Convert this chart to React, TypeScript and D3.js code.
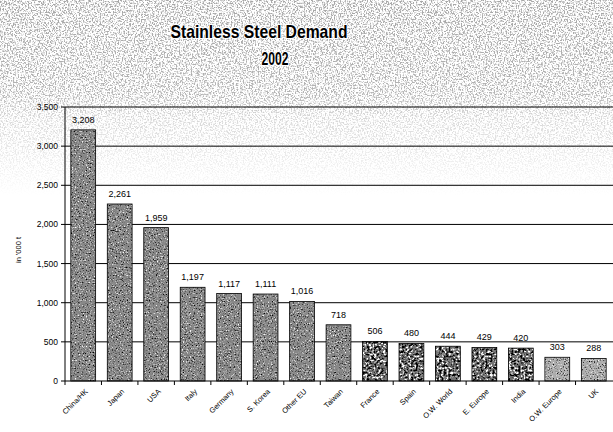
import React from "react";
import * as d3 from "d3";

const categories = ["China/HK", "Japan", "USA", "Italy", "Germany", "S. Korea", "Other EU", "Taiwan", "France", "Spain", "O.W. World", "E. Europe", "India", "O.W. Europe", "UK"];
const values = [3208, 2261, 1959, 1197, 1117, 1111, 1016, 718, 506, 480, 444, 429, 420, 303, 288];
const yTicks = [0, 500, 1000, 1500, 2000, 2500, 3000, 3500];
const titleLines = ["Stainless Steel Demand", "2002"];
const yLabel = "in '000 t";

const W = 613, H = 432;
const M = { left: 65, right: 1, top: 107, bottom: 51 };

function shade(i: number): string {
  if (i < 8) return "#888888";
  if (i < 13) return "#707070";
  return "#adadad";
}
function grain(i: number): string {
  return i >= 8 && i < 13 ? "url(#grainHard)" : "url(#grainSoft)";
}

export default function App() {
  const x = d3.scaleBand<string>().domain(categories).range([M.left, W - M.right]).paddingInner(0.32).paddingOuter(0.16);
  const y = d3.scaleLinear().domain([0, 3500]).range([H - M.bottom, M.top]);
  const fmt = d3.format(",");
  const step = x.step();
  const y0 = y(0);
  return (
    <svg width={W} height={H} style={{ position: "absolute", left: 0, top: 0, background: "#fff" }} fontFamily="'Liberation Sans', Arial, sans-serif">
      <defs>
        <filter id="noise" x="0" y="0" width="100%" height="100%" colorInterpolationFilters="sRGB">
          <feTurbulence type="fractalNoise" baseFrequency="0.67" numOctaves="2" seed="3" result="t" />
          <feColorMatrix in="t" type="matrix" values="0 0 0 0 0.5  0 0 0 0 0.5  0 0 0 0 0.5  5 0 0 0 -2.3" />
        </filter>
        <linearGradient id="fade" x1="0" y1="0" x2="0" y2="1">
          <stop offset="0" stopColor="#fff" stopOpacity="1" />
          <stop offset="0.48" stopColor="#fff" stopOpacity="0.85" />
          <stop offset="0.6" stopColor="#fff" stopOpacity="0.45" />
          <stop offset="1" stopColor="#fff" stopOpacity="0" />
        </linearGradient>
        <mask id="fadeMask">
          <rect x={0} y={0} width={W} height={195} fill="url(#fade)" />
        </mask>
        <filter id="grainSoft" x="0" y="0" width="100%" height="100%" colorInterpolationFilters="sRGB">
          <feTurbulence type="fractalNoise" baseFrequency="0.73" numOctaves="2" seed="7" result="t" />
          <feColorMatrix in="t" type="matrix" values="0 0 0 0 1  0 0 0 0 1  0 0 0 0 1  4 0 0 0 -2.3" result="w" />
          <feColorMatrix in="t" type="matrix" values="0 0 0 0 0  0 0 0 0 0  0 0 0 0 0  -4 0 0 0 1.7" result="b" />
          <feComposite in="w" in2="SourceGraphic" operator="in" result="wc" />
          <feComposite in="b" in2="SourceGraphic" operator="in" result="bc" />
          <feMerge>
            <feMergeNode in="SourceGraphic" />
            <feMergeNode in="wc" />
            <feMergeNode in="bc" />
          </feMerge>
        </filter>
        <filter id="grainHard" x="0" y="0" width="100%" height="100%" colorInterpolationFilters="sRGB">
          <feTurbulence type="fractalNoise" baseFrequency="0.43" numOctaves="2" seed="11" result="t" />
          <feColorMatrix in="t" type="matrix" values="0 0 0 0 1  0 0 0 0 1  0 0 0 0 1  7 0 0 0 -3.9" result="w" />
          <feColorMatrix in="t" type="matrix" values="0 0 0 0 0  0 0 0 0 0  0 0 0 0 0  -7 0 0 0 3.3" result="b" />
          <feComposite in="w" in2="SourceGraphic" operator="in" result="wc" />
          <feComposite in="b" in2="SourceGraphic" operator="in" result="bc" />
          <feMerge>
            <feMergeNode in="SourceGraphic" />
            <feMergeNode in="wc" />
            <feMergeNode in="bc" />
          </feMerge>
        </filter>
      </defs>
      <g mask="url(#fadeMask)">
        <rect x={0} y={0} width={W} height={195} filter="url(#noise)" opacity={0.7} />
      </g>
      {yTicks.map((t) => (
        <g key={t}>
          {t > 0 && <line x1={M.left} x2={W} y1={y(t)} y2={y(t)} stroke="#000" strokeWidth={1} />}
          <line x1={M.left - 4} x2={M.left} y1={y(t)} y2={y(t)} stroke="#000" />
          <text x={M.left - 7} y={y(t) + 3} fontSize={8.5} textAnchor="end" fill="#000">{fmt(t)}</text>
        </g>
      ))}
      <text transform={`translate(21,${(M.top + y0) / 2 + 6}) rotate(-90)`} fontSize={7.5} textAnchor="middle">{yLabel}</text>
      {categories.map((c, i) => {
        const bx = x(c)!;
        const by = y(values[i]);
        return (
          <g key={c}>
            <rect x={bx} y={by} width={x.bandwidth()} height={y0 - by} fill={shade(i)} filter={grain(i)} />
            <rect x={bx} y={by} width={x.bandwidth()} height={y0 - by} fill="none" stroke="#000" strokeWidth={0.8} />
            <text x={bx + x.bandwidth() / 2} y={by - 7} fontSize={9} textAnchor="middle" fill="#000">{fmt(values[i])}</text>
            <text transform={`translate(${bx + x.bandwidth() / 2 + 5},${y0 + 11}) rotate(-45)`} fontSize={7.5} textAnchor="end" fill="#000">{c}</text>
          </g>
        );
      })}
      <line x1={M.left} x2={M.left} y1={M.top} y2={y0} stroke="#000" />
      <line x1={M.left} x2={W} y1={y0} y2={y0} stroke="#000" />
      {categories.map((c, i) => (
        <line key={"t" + i} x1={M.left + i * step} x2={M.left + i * step} y1={y0} y2={y0 + 4} stroke="#000" />
      ))}
      <text x={259} y={38} fontSize={19} fontWeight="bold" textAnchor="middle" textLength={177} lengthAdjust="spacingAndGlyphs" fill="#000" stroke="#fff" strokeWidth={2} paintOrder="stroke">{titleLines[0]}</text>
      <text x={275} y={65} fontSize={19} fontWeight="bold" textAnchor="middle" textLength={27} lengthAdjust="spacingAndGlyphs" fill="#000" stroke="#fff" strokeWidth={2} paintOrder="stroke">{titleLines[1]}</text>
    </svg>
  );
}
